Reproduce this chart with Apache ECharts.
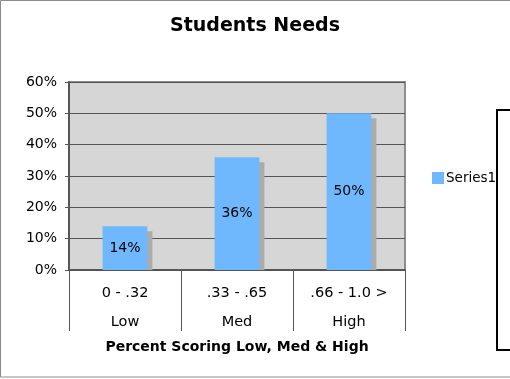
<!DOCTYPE html>
<html>
<head>
<meta charset="utf-8">
<script src="https://cdn.jsdelivr.net/npm/echarts@6/dist/echarts.min.js"></script>
<style>
  html, body { margin: 0; padding: 0; background: #fff; }
  #chart { width: 510px; height: 379px; }
</style>
</head>
<body>
<div id="chart"></div>
<script>
// data
const ranges = ['0 - .32', '.33 - .65', '.66 - 1.0 >'];
const levels = ['Low', 'Med', 'High'];
const series1 = [14, 36, 50];
const yTicks = [0, 10, 20, 30, 40, 50, 60];

const chart = echarts.init(document.getElementById('chart'));
const font = "'DejaVu Sans', Verdana, sans-serif";

// gray drop shadow behind every bar, offset a few px right and down
const shadowItem = (params, api) => {
  const top = api.coord([api.value(0), api.value(1)]);
  const base = api.coord([api.value(0), 0]);
  const w = api.size([1, 0])[0] * 0.4;
  return {
    type: 'rect',
    shape: { x: top[0] - w / 2 + 5, y: top[1] + 5, width: w, height: base[1] - top[1] - 5 },
    style: { fill: '#ababab' }
  };
};

chart.setOption({
  animation: false,
  textStyle: { fontFamily: font },
  title: {
    text: 'Students Needs',
    left: 'center',
    top: 12,
    textStyle: { fontFamily: font, fontSize: 19, fontWeight: 'bold', color: '#000' }
  },
  legend: {
    data: ['Series1'],
    left: 427,
    top: 166,
    itemWidth: 12,
    itemHeight: 12,
    itemGap: 4,
    icon: 'rect',
    textStyle: { fontFamily: font, fontSize: 13.5, color: '#000', padding: [0, 0, 0, -3] }
  },
  grid: {
    left: 69, right: 105, top: 82, bottom: 109,
    show: true,
    backgroundColor: '#d6d6d6',
    borderColor: '#8c8c8c',
    borderWidth: 2
  },
  xAxis: {
    type: 'category',
    data: ranges.map((r, i) => r + '\n' + levels[i]),
    boundaryGap: true,
    axisLine: { lineStyle: { color: '#555', width: 2 } },
    axisTick: { show: true, length: 61, lineStyle: { color: '#555', width: 1 } },
    axisLabel: {
      margin: 8.5,
      fontSize: 14.5,
      lineHeight: 29,
      color: '#000',
      fontFamily: font
    },
    name: 'Percent Scoring Low, Med & High',
    nameLocation: 'middle',
    nameGap: 70,
    nameTextStyle: { fontFamily: font, fontSize: 14, fontWeight: 'bold', color: '#000' }
  },
  yAxis: {
    type: 'value',
    min: yTicks[0],
    max: yTicks[yTicks.length - 1],
    interval: 10,
    axisLine: { show: true, lineStyle: { color: '#555', width: 2 } },
    axisTick: { show: true, length: 4, lineStyle: { color: '#555' } },
    axisLabel: { formatter: '{value}%', fontSize: 14, color: '#000', margin: 12, fontFamily: font },
    splitLine: { lineStyle: { color: '#555', width: 1 } }
  },
  series: [
    {
      type: 'custom',
      renderItem: shadowItem,
      data: series1.map((v, i) => [i, v]),
      z: 1,
      silent: true
    },
    {
      name: 'Series1',
      type: 'bar',
      data: series1,
      barWidth: '40%',
      z: 2,
      itemStyle: { color: '#70b8fd' },
      label: {
        show: true,
        position: 'inside',
        formatter: '{c}%',
        color: '#000',
        fontSize: 14,
        fontFamily: font
      }
    }
  ],
  graphic: [
    {
      type: 'rect',
      shape: { x: 0.5, y: 0.5, width: 600, height: 376.5 },
      style: { fill: 'none', stroke: '#8c8c8c', lineWidth: 1 },
      silent: true
    },
    {
      type: 'rect',
      shape: { x: 497, y: 110, width: 40, height: 240 },
      style: { fill: 'none', stroke: '#000', lineWidth: 2 },
      silent: true
    }
  ]
});
</script>
</body>
</html>
